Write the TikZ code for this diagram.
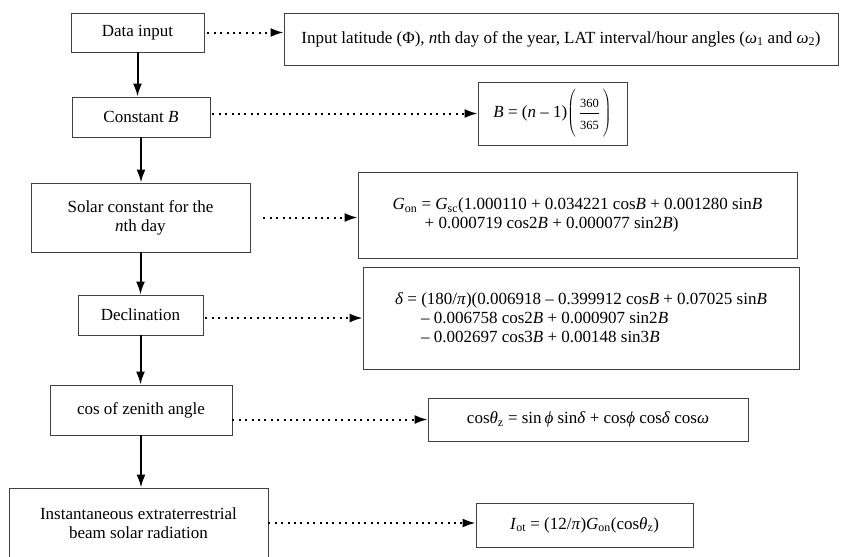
\documentclass[tikz,border=0pt]{standalone}
\usepackage{fontspec}
\setmainfont{Liberation Serif}
\usetikzlibrary{arrows.meta}
\newcommand{\nb}[1]{\textit{#1}}
\newcommand{\sm}[1]{\mbox{\fontsize{12.5}{12.5}\selectfont #1}}

\begin{document}
\begin{tikzpicture}[x=1pt,y=-1pt,
    font=\fontsize{17}{19}\selectfont,
    stepbox/.style={draw=black!75,line width=0.9pt,inner sep=2pt,align=center},
    flow/.style={line width=2pt,-{Latex[length=13pt,width=9pt]}},
    dots/.style={line width=2pt,dash pattern=on 2pt off 4.4pt,
                 -{Latex[length=13pt,width=9pt]}}]
   \useasboundingbox (0,0) rectangle (844,557);
   % steps on the left
   \node[stepbox,minimum width=133pt,minimum height=39pt] (din)   at (137.5,32.5) {Data input};
   \node[stepbox,minimum width=138pt,minimum height=40pt] (cstB)  at (141,117) {Constant \nb{B}};
   \node[stepbox,minimum width=219pt,minimum height=69pt] (solar) at (140.5,217.5) {Solar constant for the\\\nb{n}th day};
   \node[stepbox,minimum width=125pt,minimum height=40pt] (decl)  at (140.5,315) {Declination};
   \node[stepbox,minimum width=182pt,minimum height=50pt] (zen)   at (141,410) {cos of zenith angle};
   \node[stepbox,minimum width=259pt,minimum height=70pt] (inst)  at (138.5,523) {Instantaneous extraterrestrial\\beam solar radiation};
   % formulas on the right
   \node[stepbox,minimum width=554pt,minimum height=52pt] (inp)  at (561,39)
     {Input latitude (Φ), \nb{n}th day of the year, LAT interval/hour angles (\nb{ω}\textsubscript{1} and \nb{ω}\textsubscript{2})};
   \node[stepbox,minimum width=149pt,minimum height=63pt] (bval) at (552.5,113.5)
     {\nb{B} = (\nb{n} – 1)$\left(\rule[-21pt]{0pt}{50pt}\,\frac{\raisebox{0pt}[13pt][5pt]{\sm{360}}}{\raisebox{0pt}[16pt][3pt]{\sm{365}}}\,\right)$};
   \node[stepbox,align=left,minimum width=439pt,minimum height=86pt] (gon) at (577.5,215)
     {\nb{G}\textsubscript{on} = \nb{G}\textsubscript{sc}(1.000110 + 0.034221 cos\nb{B} + 0.001280 sin\nb{B}\\
      \hspace*{32pt}+ 0.000719 cos2\nb{B} + 0.000077 sin2\nb{B})};
   \node[stepbox,align=left,minimum width=436pt,minimum height=102pt] (dlt) at (581,318)
     {\nb{δ} = (180/\nb{π})(0.006918 – 0.399912 cos\nb{B} + 0.07025 sin\nb{B}\\
      \hspace*{26pt}– 0.006758 cos2\nb{B} + 0.000907 sin2\nb{B}\\
      \hspace*{26pt}– 0.002697 cos3\nb{B} + 0.00148 sin3\nb{B}};
   \node[stepbox,minimum width=320pt,minimum height=43pt] (czen) at (588,419.5)
     {cos\nb{θ}\textsubscript{z} = sin\,\nb{ϕ} sin\nb{δ} + cos\nb{ϕ} cos\nb{δ} cos\nb{ω}};
   \node[stepbox,minimum width=217pt,minimum height=44pt] (iot) at (584.5,525)
     {\nb{I}\textsubscript{ot} = (12/\nb{π})\nb{G}\textsubscript{on}(cos\nb{θ}\textsubscript{z})};
   % main flow
   \draw[flow] (din.south)   -- (din.south |- cstB.north);
   \draw[flow] (cstB.south)  -- (cstB.south |- solar.north);
   \draw[flow] (solar.south) -- (solar.south |- decl.north);
   \draw[flow] (decl.south)  -- (decl.south |- zen.north);
   \draw[flow] (zen.south)   -- (zen.south |- inst.north);
   % dotted links
   \draw[dots,shorten <=3pt]  (din.east) -- (din.east -| inp.west);
   \draw[dots,shorten <=2pt]  (cstB.east |- bval.west) -- (bval.west);
   \draw[dots,shorten <=13pt] (solar.east) -- (solar.east -| gon.west);
   \draw[dots,shorten <=2pt]  (decl.east |- dlt.west) -- (dlt.west);
   \draw[dots]                (zen.east |- czen.west) -- (czen.west);
   \draw[dots]                (inst.east) -- (inst.east -| iot.west);
\end{tikzpicture}
\end{document}
